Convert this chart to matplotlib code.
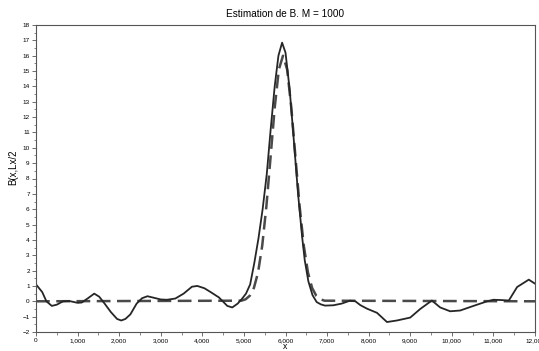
import matplotlib
matplotlib.use("Agg")
import matplotlib.pyplot as plt
from matplotlib.ticker import MultipleLocator, FuncFormatter

plt.rcParams['font.family'] = ['Liberation Sans', 'DejaVu Sans']

# estimated curve B(x, Lx/2), M = 1000 (solid)
x_est = [0, 150, 250, 380, 500, 650, 800, 1000, 1100, 1250, 1400, 1520, 1650,
         1800, 1950, 2050, 2150, 2270, 2420, 2550, 2680, 2850, 3000, 3150,
         3350, 3550, 3750, 3880, 4050, 4200, 4400, 4600, 4720, 4850, 4950,
         5050, 5150, 5250, 5350, 5450, 5550, 5640, 5740, 5830, 5918, 6000,
         6100, 6182, 6302, 6400, 6463, 6550, 6650, 6750, 6850, 6950, 7150, 7350,
         7550, 7680, 7800, 7960, 8200, 8440, 8680, 9000, 9240, 9520, 9720,
         9960, 10200, 10520, 10850, 11000, 11200, 11370, 11570, 11850, 12000]
b_est = [1.1, 0.6, 0.0, -0.3, -0.22, 0.0, 0.02, -0.1, -0.08, 0.2, 0.5, 0.3, -0.15,
         -0.7, -1.15, -1.25, -1.15, -0.85, -0.15, 0.2, 0.33, 0.22, 0.12, 0.1,
         0.18, 0.5, 0.95, 1.0, 0.85, 0.6, 0.25, -0.3, -0.4, -0.15, 0.15,
         0.5, 1.1, 2.5, 4.1, 6.0, 8.3, 11.1, 14.0, 16.0, 16.85, 16.2,
         13.8, 11.1, 7.0, 4.2, 2.67, 1.3, 0.4, -0.05, -0.2, -0.28, -0.26, -0.15,
         0.04, 0.0, -0.25, -0.48, -0.75, -1.35, -1.25, -1.06, -0.5, 0.05, -0.4,
         -0.65, -0.6, -0.3, 0.0, 0.1, 0.08, 0.05, 0.93, 1.41, 1.15]

# exact curve (dashed)
x_ref = [0, 4940, 5040, 5140, 5240, 5340, 5440, 5540, 5640, 5740, 5840, 5940,
         6040, 6140, 6240, 6340, 6440, 6540, 6640, 6740, 6840, 6940, 12000]
b_ref = [0, 0.04, 0.13, 0.36, 0.87, 1.88, 3.62, 6.18, 9.37, 12.6, 15.1, 16.0,
         15.1, 12.6, 9.37, 6.18, 3.62, 1.88, 0.87, 0.36, 0.13, 0.04, 0]

fig = plt.figure(figsize=(5.39, 3.51), dpi=100)
ax = fig.add_axes([36 / 539, 1 - 332 / 351, 499 / 539, 307 / 351])

ax.plot(x_ref, b_ref, color='#4a4a4a', lw=1.8, dashes=(5.5, 2.6))
ax.plot(x_est, b_est, color='#262626', lw=1.3)

ax.set_xlim(0, 12000)
ax.set_ylim(-2, 18)
ax.xaxis.set_major_locator(MultipleLocator(1000))
ax.xaxis.set_minor_locator(MultipleLocator(500))
ax.yaxis.set_major_locator(MultipleLocator(1))
ax.yaxis.set_minor_locator(MultipleLocator(0.5))
ax.xaxis.set_major_formatter(FuncFormatter(lambda v, p: f"{int(v):,}"))
ax.tick_params(which='major', length=3, width=0.6, labelsize=4.6, pad=1.5, color='#555555')
ax.tick_params(which='minor', length=1.8, width=0.5, color='#555555')
for s in ax.spines.values():
    s.set_linewidth(0.8)
    s.set_color('#555555')

ax.set_title("Estimation de B. M = 1000", fontsize=7.2, pad=6)
ax.set_xlabel("x", fontsize=6.2, va='center')
ax.xaxis.set_label_coords(0.5, -0.047)
ax.set_ylabel("B(x,Lx/2", fontsize=7)
ax.yaxis.set_label_coords(-0.035, 0.537)

fig.savefig("out.png", dpi=100)
